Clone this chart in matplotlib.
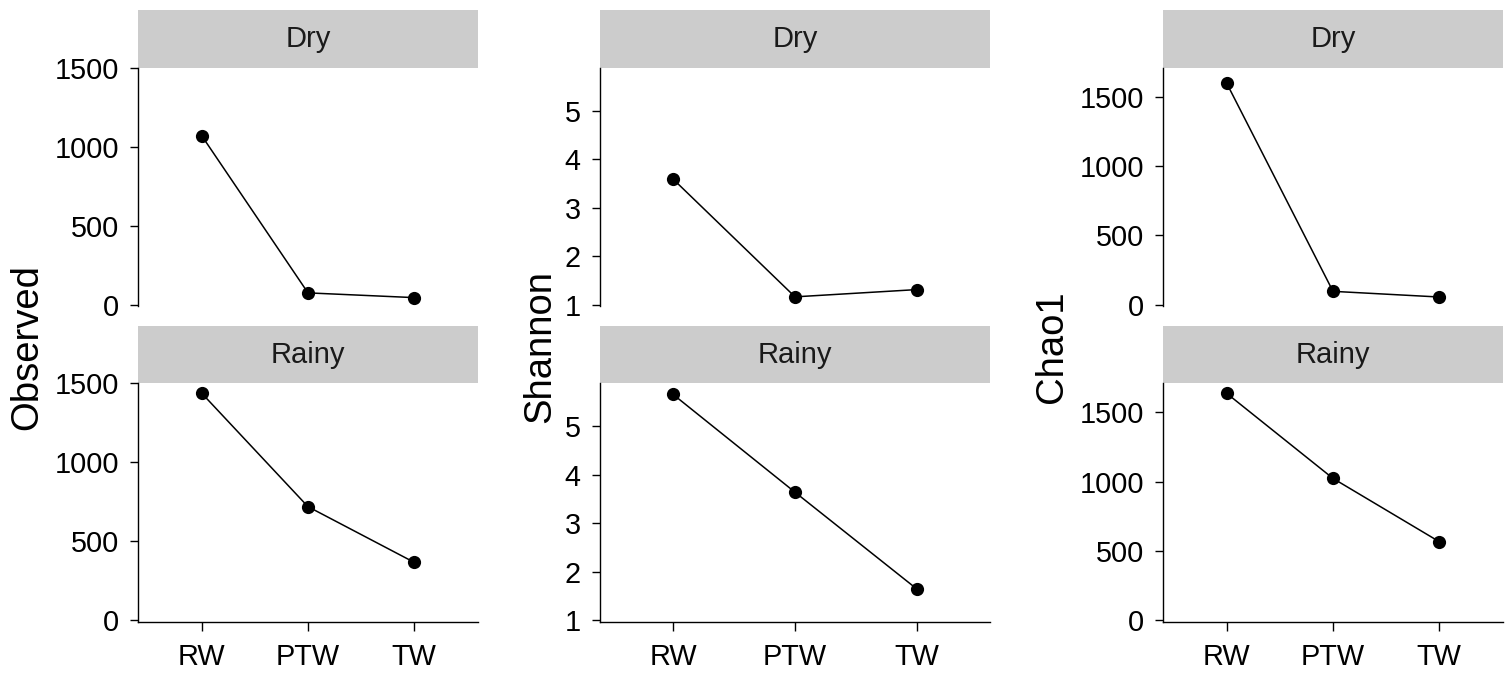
import matplotlib
matplotlib.use("Agg")
import matplotlib.pyplot as plt

plt.rcParams['font.family'] = ['Liberation Sans', 'DejaVu Sans']

sites = ["RW", "PTW", "TW"]
seasons = ["Dry", "Rainy"]

observed_dry = [1069, 74, 44]
observed_rainy = [1437, 718, 365]
shannon_dry = [3.59, 1.16, 1.31]
shannon_rainy = [5.66, 3.64, 1.64]
chao1_dry = [1597, 96, 55]
chao1_rainy = [1637, 1023, 566]

metrics = ["Observed", "Shannon", "Chao1"]
values = {
    "Observed": [observed_dry, observed_rainy],
    "Shannon": [shannon_dry, shannon_rainy],
    "Chao1": [chao1_dry, chao1_rainy],
}
yticks = {
    "Observed": [0, 500, 1000, 1500],
    "Shannon": [1, 2, 3, 4, 5],
    "Chao1": [0, 500, 1000, 1500],
}
ylims = {
    "Observed": (-11, 1500),
    "Shannon": (0.965, 5.89),
    "Chao1": (-12, 1710),
}

W, H = 1512, 673
fig = plt.figure(figsize=(W / 100, H / 100), dpi=100)

panel_x = [(138, 478), (600, 990), (1163, 1503)]
strip_y = [(10, 67.7), (326, 383.3)]
panel_y = [(67.7, 306.3), (383.3, 621.7)]
title_x = [27.5, 540, 1051.5]
title_y = 347

def fa(x0, y0, x1, y1):
    return [x0 / W, 1 - y1 / H, (x1 - x0) / W, (y1 - y0) / H]

tick_fs = 20.8
strip_fs = 21
title_fs = 27.5
x = list(range(1, len(sites) + 1))

for ci, m in enumerate(metrics):
    x0, x1 = panel_x[ci]
    for ri, season in enumerate(seasons):
        sy0, sy1 = strip_y[ri]
        sax = fig.add_axes(fa(x0, sy0, x1, sy1))
        sax.set_facecolor("#cccccc")
        for s in sax.spines.values():
            s.set_visible(False)
        sax.set_xticks([]); sax.set_yticks([])
        sax.text(0.5, 0.5, season, ha="center", va="center",
                 fontsize=strip_fs, color="#1a1a1a", transform=sax.transAxes)

        py0, py1 = panel_y[ri]
        ax = fig.add_axes(fa(x0, py0, x1, py1))
        ax.plot(x, values[m][ri], color="black", lw=1.1, marker="o",
                markersize=9.5, markeredgewidth=0, zorder=3, clip_on=False)
        ax.set_xlim(0.4, 3.6)
        ax.set_ylim(*ylims[m])
        ax.set_yticks(yticks[m])
        ax.set_yticklabels([str(t) for t in yticks[m]])
        for s in ["top", "right"]:
            ax.spines[s].set_visible(False)
        ax.spines["left"].set_linewidth(1.0)
        ax.spines["bottom"].set_linewidth(1.0)
        ax.tick_params(axis="y", length=5.8, width=1.0, pad=8,
                       labelsize=tick_fs, colors="black")
        if ri == 0:
            ax.spines["bottom"].set_visible(False)
            ax.set_xticks([])
        else:
            ax.set_xticks(x)
            ax.set_xticklabels(sites)
            ax.tick_params(axis="x", length=6.5, width=1.0, pad=9,
                           labelsize=tick_fs, colors="black")
        ax.patch.set_alpha(0)
    fig.text(title_x[ci] / W, 1 - title_y / H, m, rotation=90,
             ha="center", va="center", fontsize=title_fs)

fig.savefig("out.png", dpi=100)
